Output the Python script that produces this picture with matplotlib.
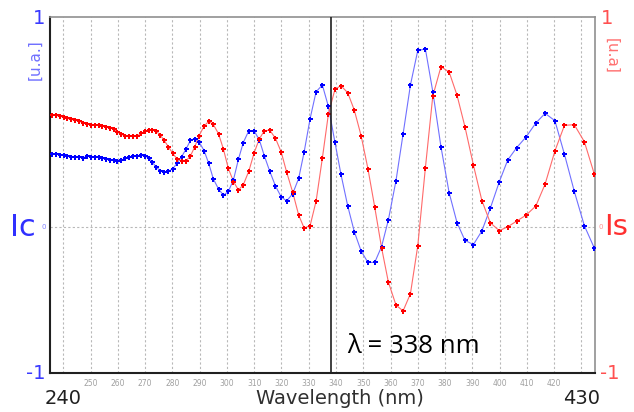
import matplotlib
matplotlib.use("Agg")
import matplotlib.pyplot as plt
import matplotlib.transforms as mtransforms

wavelength = [235.9, 237.3, 238.7, 240.1, 241.5, 242.9, 244.4, 245.8, 247.2, 248.7,
              250.1, 251.5, 253.0, 254.3, 255.8, 257.2, 258.6, 259.8, 261.3, 262.7,
              264.2, 265.7, 267.1, 268.6, 269.9, 271.3,
              272.6, 274.0, 275.5, 276.9, 278.5, 280.1, 281.8, 283.4, 285.0, 286.6,
              288.2, 289.8, 291.6, 293.3, 295.0, 296.9, 298.7, 300.5, 302.4, 304.2,
              306.0, 308.0, 310.0, 311.9, 313.7, 315.7, 317.8, 319.9, 321.9, 324.1,
              326.3, 328.3, 330.5, 332.7, 335.0, 337.2, 339.6, 341.8, 344.3, 346.7,
              349.2, 351.7, 354.2, 356.7, 359.2, 362.0, 364.6, 367.3, 370.0, 372.8,
              375.5, 378.5, 381.5, 384.4, 387.3, 390.4, 393.5, 396.6, 399.9, 403.0,
              406.3, 409.8, 413.3, 416.7, 420.3, 423.8, 427.4, 431.1, 434.8]

ic = [0.346, 0.345, 0.343, 0.341, 0.335, 0.333, 0.332, 0.332, 0.327, 0.337,
      0.333, 0.332, 0.330, 0.326, 0.321, 0.318, 0.319, 0.313, 0.318, 0.326,
      0.332, 0.338, 0.338, 0.341, 0.335, 0.329,
      0.308, 0.285, 0.267, 0.259, 0.264, 0.275, 0.305, 0.334, 0.370, 0.411,
      0.420, 0.403, 0.363, 0.302, 0.228, 0.180, 0.150, 0.168, 0.224, 0.321,
      0.401, 0.457, 0.456, 0.413, 0.338, 0.264, 0.194, 0.142, 0.123, 0.157,
      0.230, 0.355, 0.515, 0.643, 0.675, 0.573, 0.403, 0.251, 0.099, -0.023,
      -0.115, -0.170, -0.170, -0.095, 0.032, 0.219, 0.441, 0.675, 0.840, 0.846,
      0.644, 0.381, 0.162, 0.019, -0.065, -0.085, -0.020, 0.088, 0.214, 0.318,
      0.377, 0.429, 0.494, 0.540, 0.505, 0.345, 0.169, 0.005, -0.103]

is_ = [0.532, 0.530, 0.527, 0.521, 0.516, 0.511, 0.507, 0.502, 0.495, 0.489,
       0.486, 0.484, 0.483, 0.481, 0.476, 0.470, 0.464, 0.452, 0.440, 0.432,
       0.430, 0.430, 0.433, 0.445, 0.454, 0.460,
       0.460, 0.456, 0.437, 0.413, 0.381, 0.350, 0.321, 0.313, 0.314, 0.337,
       0.381, 0.434, 0.479, 0.502, 0.487, 0.443, 0.370, 0.278, 0.215, 0.175,
       0.200, 0.264, 0.353, 0.419, 0.457, 0.460, 0.421, 0.356, 0.260, 0.165,
       0.056, -0.006, 0.005, 0.122, 0.327, 0.536, 0.654, 0.672, 0.638, 0.556,
       0.434, 0.277, 0.094, -0.099, -0.263, -0.373, -0.401, -0.319, -0.090, 0.282,
       0.622, 0.762, 0.737, 0.626, 0.476, 0.294, 0.125, 0.019, -0.019, 0.000,
       0.027, 0.056, 0.099, 0.203, 0.361, 0.483, 0.486, 0.405, 0.249]

grid_x = list(range(240, 431, 10))
small_ticks = list(range(250, 421, 10))
marker_wl = 338

fig = plt.figure(figsize=(6.34, 4.12), dpi=100)
ax = fig.add_axes([0.0789, 0.0939, 0.8600, 0.8654])
ax.set_xlim(235.1, 435.1)
ax.set_ylim(-0.698, 1.0)

for gx in grid_x:
    ax.axvline(gx, color="#b8b8b8", lw=0.8, ls=(0, (2, 2)), zorder=1)
ax.axhline(0, color="#b8b8b8", lw=0.8, ls=(0, (2, 2)), zorder=1)

ax.plot(wavelength, ic, color="#7070ff", lw=0.8, zorder=3)
ax.plot(wavelength, ic, ls="none", marker="P", ms=3.6, color="#0000ff",
        mec="#0000ff", mew=0, zorder=4)
ax.plot(wavelength, is_, color="#ff6a6a", lw=0.8, zorder=3)
ax.plot(wavelength, is_, ls="none", marker="P", ms=3.6, color="#ff0000",
        mec="#ff0000", mew=0, zorder=4)

ax.axvline(marker_wl, color="#202020", lw=1.2, zorder=5)

for side in ["top", "right"]:
    ax.spines[side].set_color("#909090")
    ax.spines[side].set_linewidth(1.2)
for side in ["left", "bottom"]:
    ax.spines[side].set_color("#202020")
    ax.spines[side].set_linewidth(1.5)

ax.set_yticks([])
ax.set_xticks(small_ticks)
ax.set_xticklabels([str(t) for t in small_ticks])
ax.tick_params(axis="x", length=0, pad=4, labelsize=5.5, labelcolor="#a0a0a0")

tb = mtransforms.blended_transform_factory(ax.transData, fig.transFigure)
fig.text(240, 0.032, "240", transform=tb, ha="center", va="center",
         fontsize=14, color="#202020")
fig.text(430, 0.032, "430", transform=tb, ha="center", va="center",
         fontsize=14, color="#202020")
fig.text(0.536, 0.032, "Wavelength (nm)", ha="center", va="center",
         fontsize=14, color="#303030")

ax.text(0.545, 0.075, "λ = 338 nm", transform=ax.transAxes, ha="left",
        va="center", fontsize=18.5, family="Open Sans", color="black")

# left axis annotations
fig.text(0.062, 0.955, "1", ha="center", va="center", fontsize=14, color="#3a3aff")
fig.text(0.055, 0.855, "[u.a.]", ha="center", va="center", fontsize=11,
         rotation=90, color="#7070ff")
fig.text(0.036, 0.449, "Ic", ha="center", va="center", fontsize=22, color="#3030ff")
fig.text(0.069, 0.449, "0", ha="center", va="center", fontsize=5, color="#8080ff")
fig.text(0.057, 0.094, "-1", ha="center", va="center", fontsize=14, color="#3a3aff")

# right axis annotations
fig.text(0.958, 0.955, "1", ha="center", va="center", fontsize=14, color="#ff5050")
fig.text(0.965, 0.865, "[u.a]", ha="center", va="center", fontsize=11,
         rotation=270, color="#ff7070")
fig.text(0.972, 0.449, "Is", ha="center", va="center", fontsize=21, color="#ff3030")
fig.text(0.948, 0.449, "0", ha="center", va="center", fontsize=5, color="#ff9090")
fig.text(0.962, 0.094, "-1", ha="center", va="center", fontsize=14, color="#ff5050")

fig.savefig("out.png", dpi=100)
